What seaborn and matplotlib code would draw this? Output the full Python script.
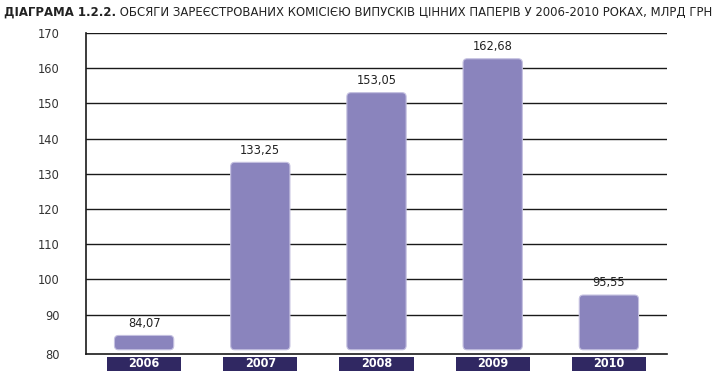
import matplotlib
matplotlib.use("Agg")
import matplotlib.pyplot as plt
import matplotlib.transforms as mtransforms
from matplotlib.patches import FancyBboxPatch, Rectangle
import seaborn as sns
import pandas as pd

years = ["2006", "2007", "2008", "2009", "2010"]
values = [84.07, 133.25, 153.05, 162.68, 95.55]
value_labels = ["84,07", "133,25", "153,05", "162,68", "95,55"]
ytick_values = [90, 100, 110, 120, 130, 140, 150, 160, 170]
title_bold = "ДІАГРАМА 1.2.2."
title_rest = " ОБСЯГИ ЗАРЕЄСТРОВАНИХ КОМІСІЄЮ ВИПУСКІВ ЦІННИХ ПАПЕРІВ У 2006-2010 РОКАХ, МЛРД ГРН"

BAR = "#8a84bd"
BAR_EDGE = "#c4c0e0"
NAVY = "#302862"
FONT = ["DejaVu Sans"]

sns.set_style("white")
plt.rcParams["font.family"] = FONT
plt.rcParams["font.stretch"] = "condensed"

df = pd.DataFrame({"year": years, "value": values})

fig = plt.figure(figsize=(7.19, 3.83), dpi=100)
ax = fig.add_axes([86 / 719, 1 - 354 / 383, (667 - 86) / 719, (354 - 33) / 383])

sns.barplot(data=df, x="year", y="value", color=BAR, width=0.51, ax=ax,
            saturation=1, edgecolor="none")

base = 80
ymin = 78.8
ax.set_ylim(ymin, 170)
ax.set_xlim(-0.5, 4.5)

# rounded bars replacing the library's rectangles
for p in list(ax.patches):
    x0, w, h = p.get_x(), p.get_width(), p.get_height()
    p.set_visible(False)
    fb = FancyBboxPatch((x0, base), w, h - base,
                        boxstyle="round,pad=0,rounding_size=0.035",
                        mutation_aspect=33, fc=BAR, ec=BAR_EDGE, lw=0.8, zorder=3)
    ax.add_patch(fb)

for i, (v, lab) in enumerate(zip(values, value_labels)):
    ax.annotate(lab, (i, v), xytext=(0, 4), textcoords="offset points",
                ha="center", va="bottom", fontsize=9.2, color="#222222", zorder=4)

# gridlines
for yv in ytick_values:
    ax.axhline(yv, color="#1a1a1a", lw=1.0, zorder=1)

ax.set_yticks([ymin] + ytick_values)
ax.set_yticklabels(["80"] + [str(t) for t in ytick_values], fontsize=9.2, color="#333333")
ax.tick_params(axis="y", length=0, pad=19)
ax.set_xticks([])
ax.set_xlabel("")
ax.set_ylabel("")

for s in ["top", "right"]:
    ax.spines[s].set_visible(False)
for s in ["left", "bottom"]:
    ax.spines[s].set_color("#1a1a1a")
    ax.spines[s].set_linewidth(1.2)

# year label boxes
trans = mtransforms.blended_transform_factory(ax.transData, ax.transAxes)
for i, y in enumerate(years):
    ax.add_patch(Rectangle((i - 0.32, -0.053), 0.64, 0.044, transform=trans,
                           fc=NAVY, ec="none", clip_on=False))
    ax.text(i, -0.031, y, transform=trans, ha="center", va="center",
            color="white", fontsize=9, fontweight="bold", clip_on=False)

# title, sized to span the width like the reference
def draw_title(fs):
    t1 = fig.text(4 / 719, 1 - 12 / 383, title_bold, ha="left", va="center",
                  fontsize=fs, fontweight="bold", color="#222222")
    fig.canvas.draw()
    bb = t1.get_window_extent()
    t2 = fig.text(bb.x1 / 719, 1 - 12 / 383, title_rest, ha="left", va="center",
                  fontsize=fs, color="#222222")
    fig.canvas.draw()
    return t1, t2, t2.get_window_extent().x1

fs = 10.5
t1, t2, right = draw_title(fs)
fs = fs * (713 - 4) / (right - 4)
t1.remove(); t2.remove()
draw_title(fs)

fig.savefig("out.png", dpi=100)
